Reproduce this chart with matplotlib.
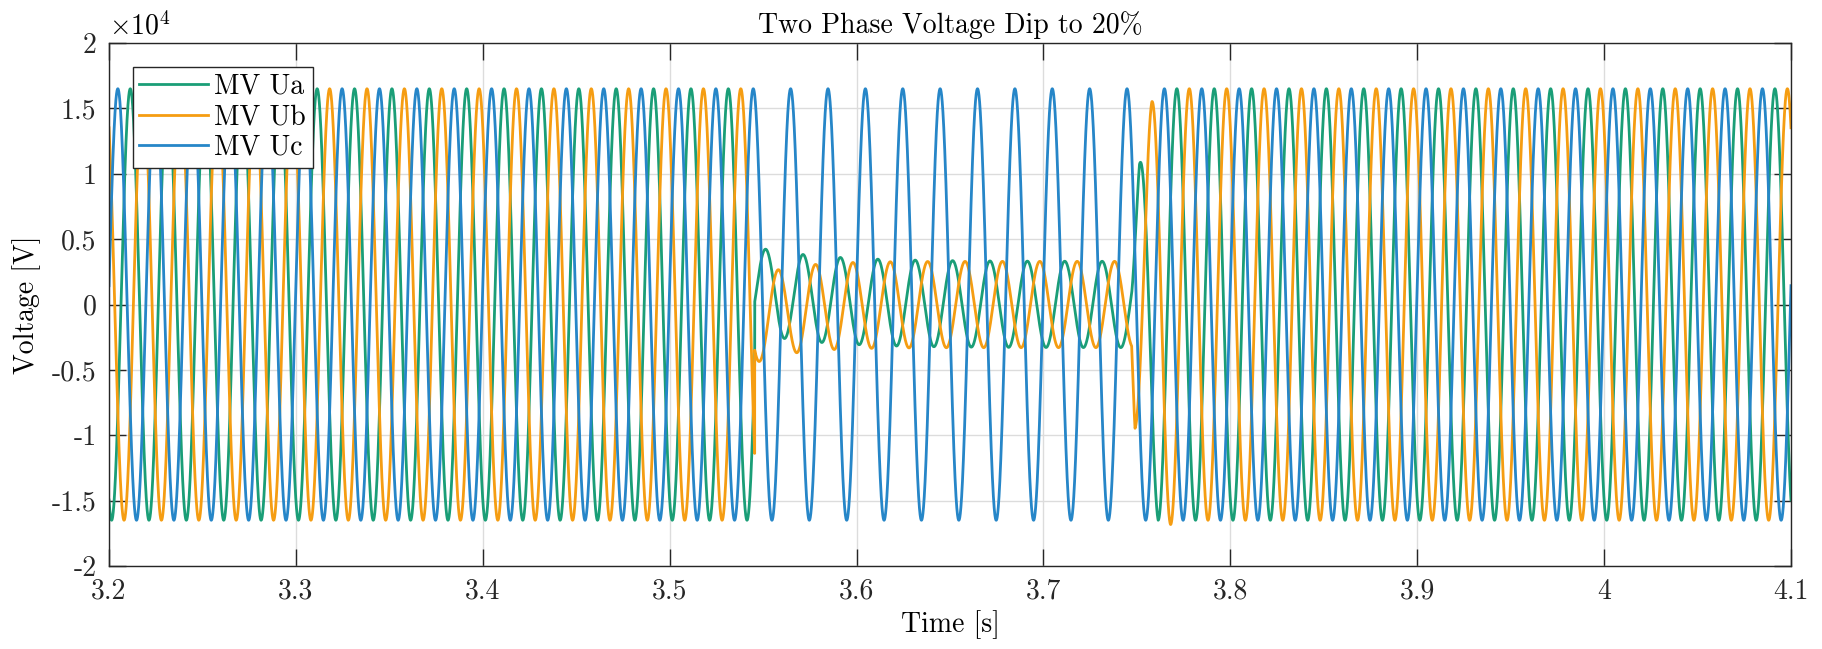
import numpy as np
import matplotlib
matplotlib.use("Agg")
import matplotlib.pyplot as plt

plt.rcParams.update({"font.family": "serif", "font.serif": ["cmr10"], "mathtext.fontset": "cm",
                     "axes.unicode_minus": False, "font.size": 20})

# waveform parameters
f_hz = 50.0
amp = 1.65e4
names = ["MV Ua", "MV Ub", "MV Uc"]
colors = ["#1a9e77", "#f59d12", "#2686c8"]
phase_deg = [155.0, 35.0, -85.0]          # angle of each phase at t = 3.2 s
t_dip = 3.5455                            # fault start
# amplitude envelopes (fraction of nominal), breakpoints per phase
env_t = [[3.2, 3.54549, 3.5455, 3.7472, 3.7514, 3.7614, 4.1],
         [3.2, 3.54549, 3.5455, 3.7472, 3.7490, 3.7580, 3.7680, 3.778, 4.1],
         [3.2, 4.1]]
env_v = [[1, 1, 0.2, 0.2, 0.65, 1.0, 1],
         [1, 1, 0.2, 0.2, 0.60, 0.94, 1.02, 1.0, 1],
         [1, 1]]
dc_jump = [0.11e4, -0.12e4, 0.0]          # decaying offset at fault start
dc_tau = [0.035, 0.02, 0.02]

xticks = [3.2, 3.3, 3.4, 3.5, 3.6, 3.7, 3.8, 3.9, 4.0, 4.1]
xtick_lbl = ["3.2", "3.3", "3.4", "3.5", "3.6", "3.7", "3.8", "3.9", "4", "4.1"]
yticks = [-2, -1.5, -1, -0.5, 0, 0.5, 1, 1.5, 2]
ytick_lbl = ["-2", "-1.5", "-1", "-0.5", "0", "0.5", "1", "1.5", "2"]

t = np.arange(3.2, 4.1 + 1e-6, 2e-5)

fig = plt.figure(figsize=(18.22, 6.49), dpi=100)
ax = fig.add_axes([109/1822, 1-566/649, (1791-109)/1822, (566-43)/649])
for i in range(3):
    env = np.interp(t, env_t[i], env_v[i])
    w = 2*np.pi*f_hz*(t-3.2) + np.deg2rad(phase_deg[i])
    dc = np.where(t >= t_dip, dc_jump[i]*np.exp(-(t-t_dip)/dc_tau[i]), 0.0)
    y = amp*env*np.cos(w) + dc
    ax.plot(t, y/1e4, color=colors[i], lw=2.0, label=names[i])

ax.set_xlim(3.2, 4.1); ax.set_ylim(-2, 2)
ax.set_xticks(xticks); ax.set_xticklabels(xtick_lbl)
ax.set_yticks(yticks); ax.set_yticklabels(ytick_lbl)
ax.tick_params(direction="in", length=12, width=1.0, top=True, right=True, colors="#262626",
               labelsize=20, pad=9)
ax.grid(True, color="#dcdcdc", lw=1.0)
ax.set_axisbelow(True)
for s in ax.spines.values():
    s.set_color("#262626"); s.set_linewidth(1.0)
ax.set_xlabel("Time [s]", fontsize=20, labelpad=4)
ax.set_ylabel("Voltage [V]", fontsize=20, labelpad=8)
ax.set_title("Two Phase Voltage Dip to 20%", fontsize=20, pad=7)
ax.text(0.0, 1.004, r"$\times10^{4}$", transform=ax.transAxes, fontsize=20, va="bottom", ha="left")
leg = ax.legend(loc="upper left", bbox_to_anchor=(0.014, 0.955), fontsize=20, frameon=True, fancybox=False,
                framealpha=1, edgecolor="#262626", handlelength=2.45, handletextpad=0.25,
                borderpad=0.25, labelspacing=0.15, borderaxespad=0)
leg.get_frame().set_linewidth(1.0)
fig.savefig("out.png", dpi=100)
